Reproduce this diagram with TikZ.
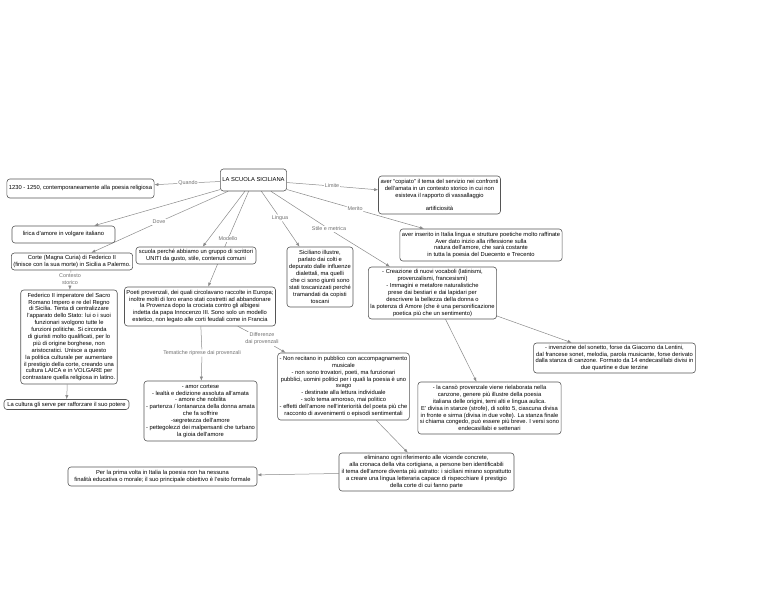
\documentclass[tikz,border=0pt]{standalone}
\usepackage{fontspec}
\setmainfont{Liberation Sans}
\usetikzlibrary{arrows.meta}
\definecolor{boxgray}{HTML}{555555}
\definecolor{linegray}{HTML}{8A8A8A}
\definecolor{lblgray}{HTML}{707070}
\pgfdeclarelayer{bg}
\pgfsetlayers{bg,main}
\begin{document}
\begin{tikzpicture}[x=1pt,y=-1pt,
  box/.style={draw=boxgray, fill=white, rounded corners=3pt, line width=0.6pt, align=center,
    font=\fontsize{5.8}{6.9}\selectfont, inner xsep=2pt, inner ysep=1.5pt},
  lbl/.style={text=lblgray, fill=white, align=center, font=\fontsize{5.4}{7.2}\selectfont, inner sep=0.8pt},
  con/.style={draw=linegray, line width=0.5pt},
  arr/.style={con, -{Latex[length=4pt,width=3.2pt]}}
]
\useasboundingbox (0,0) rectangle (768,593);

% concepts
\node[box, minimum width=65pt, minimum height=22pt] (main) at (253.5,180) {LA SCUOLA SICILIANA};
\node[box, minimum width=145pt, minimum height=19pt] (n1230) at (80.5,188.5) {1230 - 1250, contemporaneamente alla poesia religiosa};
\node[box, minimum width=103pt, minimum height=17pt] (lirica) at (63.5,234.5) {lirica d'amore in volgare italiano};
\node[box, minimum width=120pt, minimum height=17pt] (corte) at (72,261.5) {Corte (Magna Curia) di Federico II\\(finisce con la sua morte) in Sicilia a Palermo.};
\node[box, minimum width=96pt, minimum height=94pt] (federico) at (69,337) {Federico II imperatore del Sacro\\Romano Impero e re del Regno\\di Sicilia. Tenta di centralizzare\\l'apparato dello Stato: lui o i suoi\\funzionari svolgono tutte le\\funzioni politiche. Si circonda\\di giuristi molto qualificati, per lo\\più di origine borghese, non\\aristocratici. Unisce a questo\\la politica culturale per aumentare\\il prestigio della corte, creando una\\cultura LAICA e in VOLGARE per\\contrastare quella religiosa in latino.};
\node[box, minimum width=125pt, minimum height=10pt, inner ysep=1pt] (cultura) at (66.5,404.5) {La cultura gli serve per rafforzare il suo potere};
\node[box, minimum width=120pt, minimum height=17pt] (scuola) at (196,255.5) {scuola perché abbiamo un gruppo di scrittori\\UNITI da gusto, stile, contenuti comuni};
\node[box, minimum width=148pt, minimum height=39pt] (poeti) at (200,306.5) {Poeti provenzali, dei quali circolavano raccolte in Europa;\\inoltre molti di loro erano stati costretti ad abbandonare\\la Provenza dopo la crociata contro gli albigesi\\indetta da papa Innocenzo III. Sono solo un modello\\estetico, non legato alle corti feudali come in Francia};
\node[box, minimum width=66pt, minimum height=60pt] (siciliano) at (320,277) {Siciliano illustre,\\parlato dai colti e\\depurato dalle influenze\\dialettali, ma quelli\\che ci sono giunti sono\\stati toscanizzati perché\\tramandati da copisti\\toscani};
\node[box, minimum width=121pt, minimum height=38pt] (copiato) at (439.5,195) {aver “copiato” il tema del servizio nei confronti\\dell'amata in un contesto storico in cui non\\esisteva il rapporto di vassallaggio\\\mbox{}\\artificiosità};
\node[box, minimum width=162pt, minimum height=32pt] (inserito) at (481,245) {aver inserito in Italia lingua e strutture poetiche molto raffinate\\Aver dato inizio alla riflessione sulla\\natura dell'amore, che sarà costante\\in tutta la poesia del Duecento e Trecento};
\node[box, minimum width=127pt, minimum height=52pt] (creazione) at (432.5,293) {- Creazione di nuovi vocaboli (latinismi,\\provenzalismi, francesismi)\\- Immagini e metafore naturalistiche\\prese dai bestiari e dai lapidari per\\descrivere la bellezza della donna o\\la potenza di Amore (che è una personificazione\\poetica più che un sentimento)};
\node[box, minimum width=159pt, minimum height=30pt] (sonetto) at (614.5,358) {- invenzione del sonetto, forse da Giacomo da Lentini,\\dal francese sonet, melodia, parola musicante, forse derivato\\dalla stanza di canzone. Formato da 14 endecasillabi divisi in\\due quartine e due terzine};
\node[box, minimum width=113pt, minimum height=60pt] (amor) at (200.5,411) {- amor cortese\\- lealtà e dedizione assoluta all'amata\\- amore che nobilita\\- partenza / lontananza della donna amata\\che fa soffrire\\-segretezza dell'amore\\- pettegolezzi dei malpensanti che turbano\\la gioia dell'amore};
\node[box, minimum width=131pt, minimum height=67pt] (nonrec) at (343.5,386.5) {- Non recitano in pubblico con accompagnamento\\musicale\\- non sono trovatori, poeti, ma funzionari\\pubblici, uomini politici per i quali la poesia è uno\\svago\\- destinate alla lettura individuale\\- solo tema amoroso, mai politico\\- effetti dell'amore nell'interiorità del poeta più che\\racconto di avvenimenti o episodi sentimentali};
\node[box, minimum width=139pt, minimum height=52pt] (canso) at (489.5,408) {- la cansò provenzale viene rielaborata nella\\canzone, genere più illustre della poesia\\italiana delle origini, temi alti e lingua aulica.\\E' divisa in stanze (strofe), di solito 5, ciascuna divisa\\in fronte e sirma (divisa in due volte). La stanza finale\\si chiama congedo, può essere più breve. I versi sono\\endecasillabi e settenari};
\node[box, minimum width=175pt, minimum height=38pt] (elimin) at (426.5,472) {eliminano ogni riferimento alle vicende concrete,\\alla cronaca della vita cortigiana, a persone ben identificabili\\il tema dell'amore diventa più astratto: i siciliani mirano soprattutto\\a creare una lingua letteraria capace di rispecchiare il prestigio\\della corte di cui fanno parte};
\node[box, minimum width=189pt, minimum height=19pt] (prima) at (162.5,476.5) {Per la prima volta in Italia la poesia non ha nessuna\\finalità educativa o morale; il suo principale obiettivo è l'esito formale};

% linking phrases
\node[lbl] (lQuando) at (188,183) {Quando};
\node[lbl] (lDove) at (159,222) {Dove};
\node[lbl] (lModello) at (228,239) {Modello};
\node[lbl] (lLingua) at (280,218) {Lingua};
\node[lbl] (lStile) at (329,229) {Stile e metrica};
\node[lbl] (lLimite) at (332,186) {Limite};
\node[lbl] (lMerito) at (355,209) {Merito};
\node[lbl] (lContesto) at (70,279) {Contesto\\storico};
\node[lbl] (lTematiche) at (202,353) {Tematiche riprese dai provenzali};
\node[lbl] (lDiff) at (262,339) {Differenze\\dai provenzali};

% connectors
\begin{pgfonlayer}{bg}
\draw[con] (main) -- (lQuando); \draw[arr] (lQuando) -- (n1230);
\draw[con] (main) -- (lDove); \draw[arr] (lDove) -- (corte);
\draw[arr] (main) -- (lirica);
\draw[arr] (main) -- (scuola);
\draw[con] (main) -- (lModello); \draw[arr] (lModello) -- (poeti);
\draw[con] (main) -- (lLingua); \draw[arr] (lLingua) -- (siciliano);
\draw[con] (main) -- (lStile); \draw[arr] (lStile) -- (creazione);
\draw[con] (main) -- (lLimite); \draw[arr] (lLimite) -- (copiato);
\draw[con] (main) -- (lMerito); \draw[arr] (lMerito) -- (inserito);
\draw[con] (corte) -- (lContesto); \draw[arr] (lContesto) -- (federico);
\draw[arr] (federico) -- (cultura);
\draw[con] (poeti) -- (lTematiche); \draw[arr] (lTematiche) -- (amor);
\draw[con] (poeti) -- (lDiff); \draw[arr] (lDiff) -- (nonrec);
\draw[arr] (creazione) -- (sonetto);
\draw[arr] (creazione) -- (canso);
\draw[arr] (nonrec) -- (elimin);
\draw[arr] (elimin) -- (prima);
\end{pgfonlayer}
\end{tikzpicture}
\end{document}
